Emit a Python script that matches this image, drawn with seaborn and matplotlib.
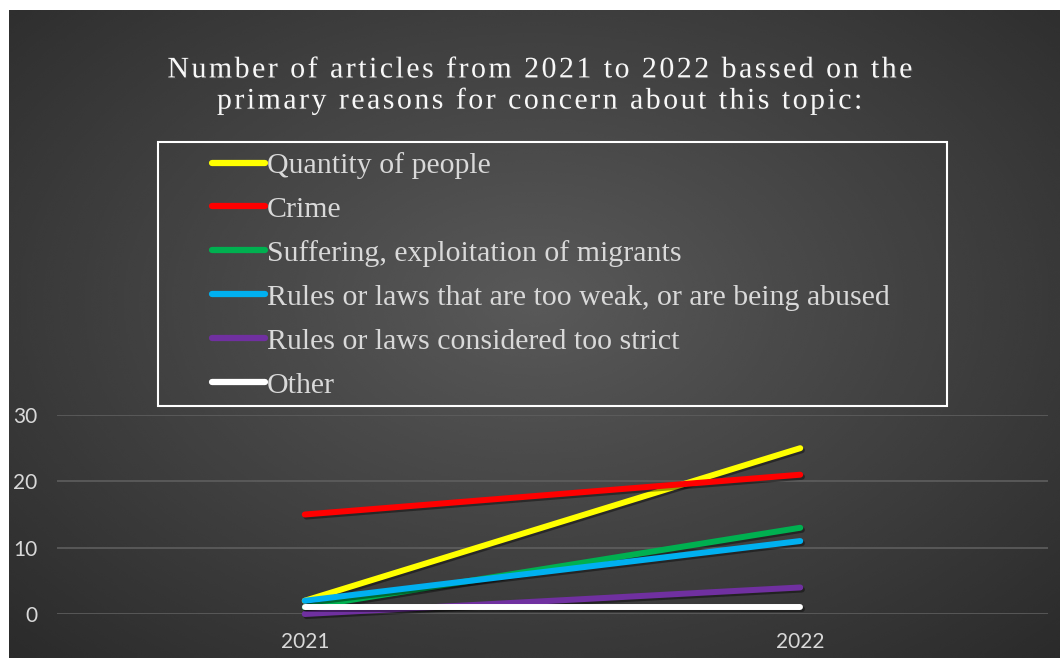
import numpy as np
import pandas as pd
import seaborn as sns
import matplotlib.pyplot as plt
import matplotlib.patheffects as pe
from matplotlib.patches import Rectangle

# data
years = ["2021", "2022"]
series = [
    "Quantity of people",
    "Crime",
    "Suffering, exploitation of migrants",
    "Rules or laws that are too weak, or are being abused",
    "Rules or laws considered too strict",
    "Other",
]
quantity = [2, 25]
crime = [15, 21]
suffering = [1, 13]
too_weak = [2, 11]
too_strict = [0, 4]
other = [1, 1]
colors = ["#FFFF00", "#FF0000", "#00B050", "#00B0F0", "#7030A0", "#FFFFFF"]

values = [quantity, crime, suffering, too_weak, too_strict, other]
df = pd.DataFrame({
    "year": years * len(series),
    "reason": [s for s in series for _ in years],
    "count": [v for vals in values for v in vals],
})

sns.set_theme(style="dark")
plt.rcParams["font.family"] = ["Lato", "DejaVu Sans"]

fig = plt.figure(figsize=(10.62, 6.58), dpi=100, facecolor="white")

# radial gradient background (dark grey)
bg = fig.add_axes([9 / 1062, 0, 1051 / 1062, 648 / 658], zorder=-10)
yy, xx = np.mgrid[0:1:300j, 0:1:480j]
r = np.sqrt(((xx - 0.5) / 0.75) ** 2 + ((yy - 0.55) / 0.8) ** 2)
shade = np.clip(0.35 - 0.19 * r, 0.15, 0.36)
bg.imshow(shade, cmap="gray", vmin=0, vmax=1, aspect="auto",
          extent=[0, 1, 0, 1], origin="lower", interpolation="bicubic")
bg.set_axis_off()

ax = fig.add_axes([57 / 1062, 44 / 658, 991 / 1062, 199 / 658])
ax.set_facecolor("none")

shadow = [pe.SimpleLineShadow(offset=(1.2, -1.5), shadow_color="black", alpha=0.4), pe.Normal()]
sns.lineplot(data=df, x="year", y="count", hue="reason", hue_order=series,
             palette=colors, linewidth=4.3, ax=ax, legend=False, sort=False)
for line in ax.lines:
    line.set_solid_capstyle("round")
    line.set_clip_on(False)
    line.set_path_effects(shadow)

ax.set_xlim(-0.5, 1.5)
ax.set_ylim(0, 30)
ax.set_yticks([0, 10, 20, 30])
ax.grid(axis="y", color="#5e5e5e", linewidth=1.2)
ax.grid(axis="x", visible=False)
for s in ax.spines.values():
    s.set_visible(False)
ax.set_xlabel("")
ax.set_ylabel("")
ax.tick_params(axis="both", colors="#d9d9d9", labelsize=15, length=0)
ax.tick_params(axis="x", pad=13)
ax.tick_params(axis="y", pad=14)

# title
title = ("Number of articles from 2021 to 2022 bassed on the\n"
         "primary reasons for concern about this topic:")
spaced = "\n".join("\u200a".join(line) for line in title.split("\n"))
fig.text(540 / 1062, 1 - 86 / 658, spaced, ha="center", va="center",
         color="#f7f7f7", fontsize=21.5, linespacing=1.2,
         family=["Liberation Serif", "DejaVu Serif"],
         path_effects=[pe.withSimplePatchShadow(offset=(1, -1), alpha=0.6)])

# legend with a separate white frame
fig.patches.append(Rectangle((158 / 1062, 1 - 406 / 658), 789 / 1062, 264 / 658,
                             transform=fig.transFigure, fill=False,
                             edgecolor="white", linewidth=1.5))
handles = [plt.Line2D([], [], color=c, linewidth=4.5, solid_capstyle="round") for c in colors]
leg = fig.legend(handles, series, loc="upper left",
                 bbox_to_anchor=(212 / 1062, 1 - 152 / 658), frameon=False,
                 borderaxespad=0, borderpad=0,
                 handlelength=1.78, handletextpad=0.07, labelspacing=0.57,
                 prop={"family": "Liberation Serif", "size": 21.5})
for t in leg.get_texts():
    t.set_color("#d9d9d9")

fig.savefig("out.png", dpi=100, facecolor="white")
